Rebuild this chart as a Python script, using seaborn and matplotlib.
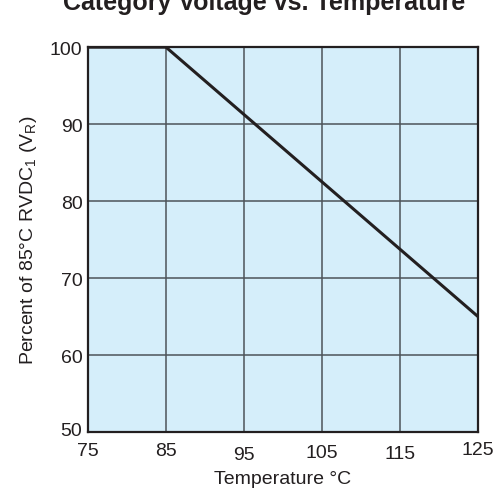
import matplotlib
matplotlib.use("Agg")
import matplotlib.pyplot as plt
import matplotlib.transforms as mtransforms
import seaborn as sns
import pandas as pd

temps = [75, 85, 125]
percent = [100, 100, 65]
x_ticks = [75, 85, 95, 105, 115, 125]
y_ticks = [50, 60, 70, 80, 90, 100]

sns.set_style("white")
plt.rcParams['font.family'] = ['Liberation Sans', 'DejaVu Sans']

df = pd.DataFrame({"Temperature": temps, "Percent": percent})

fig = plt.figure(figsize=(4.93, 4.89), dpi=100)
ax = fig.add_axes([0.1785, 0.1145, 0.791, 0.787])
ax.set_facecolor("#d5eefa")
sns.lineplot(data=df, x="Temperature", y="Percent", ax=ax, color="#231f20", linewidth=2.2)

ax.set_xlim(75, 125)
ax.set_ylim(50, 100)
ax.set_xticks(x_ticks)
ax.set_yticks(y_ticks)
ax.set_xticklabels([str(t) for t in x_ticks])
ax.set_yticklabels([str(t) for t in y_ticks])
ax.grid(True, color="#4d5359", linewidth=1.1)
ax.set_axisbelow(True)
for s in ax.spines.values():
    s.set_color("#231f20")
    s.set_linewidth(1.6)
ax.tick_params(axis="both", length=0, labelsize=14, colors="#231f20")
ax.tick_params(axis="x", pad=7)
ax.tick_params(axis="y", pad=4)
# staggered tick labels as in the reference (pixel offsets)
offsets = [0, 0, -4, -2, -3.5, 1]
for lab, off in zip(ax.get_xticklabels(), offsets):
    lab.set_transform(lab.get_transform() + mtransforms.ScaledTranslation(0, off / 100, fig.dpi_scale_trans))
# lift the "50" label above the x tick labels
ylabs = ax.get_yticklabels()
ylabs[0].set_transform(ylabs[0].get_transform() + mtransforms.ScaledTranslation(0, 4 / 100, fig.dpi_scale_trans))

ax.set_xlabel("Temperature °C", fontsize=14, color="#231f20", labelpad=5)
ax.set_ylabel(r"Percent of 85°C RVDC$_\mathregular{1}$ (V$_\mathregular{R}$)", fontsize=14, color="#231f20", labelpad=8)

fig.text(0.536, 0.994, "Category Voltage vs. Temperature", ha="center", va="center",
         fontsize=18, fontweight="bold", color="#231f20")

fig.savefig("out.png", dpi=100, facecolor="white")
